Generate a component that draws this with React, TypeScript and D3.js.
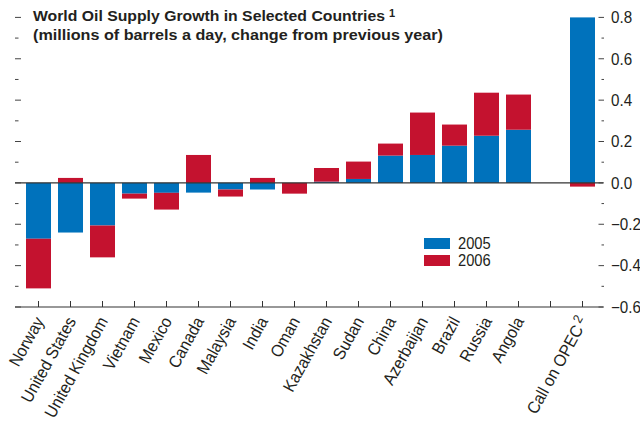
import React from "react";
import * as d3 from "d3";

const categories = [
  "Norway", "United States", "United Kingdom", "Vietnam", "Mexico", "Canada",
  "Malaysia", "India", "Oman", "Kazakhstan", "Sudan", "China", "Azerbaijan",
  "Brazil", "Russia", "Angola", "", "Call on OPEC",
];
const values2005 = [
  -0.27, -0.24, -0.206, -0.052, -0.048, -0.047, -0.032, -0.032, 0.0, 0.006,
  0.019, 0.132, 0.135, 0.18, 0.228, 0.257, 0, 0.8,
];
const values2006 = [
  -0.24, 0.024, -0.154, -0.024, -0.081, 0.135, -0.034, 0.024, -0.052, 0.066,
  0.084, 0.058, 0.205, 0.102, 0.208, 0.17, 0, -0.018,
];
const seriesKeys = ["2005", "2006"];
const seriesColors = ["#0072BC", "#C4122F"];
const yTicks = [-0.6, -0.5, -0.4, -0.3, -0.2, -0.1, 0, 0.1, 0.2, 0.3, 0.4, 0.5, 0.6, 0.7, 0.8];
const titleLines = [
  "World Oil Supply Growth in Selected Countries",
  "(millions of barrels a day, change from previous year)",
];
const superscripts: Record<string, string> = { "Call on OPEC": "2" };

const FONT = "'Liberation Sans', Arial, sans-serif";
const INK = "#231f20";

export default function App() {
  const W = 640, H = 423;
  const slots = categories.map((c, i) => `s${i}`);
  const x = d3.scaleBand<string>().domain(slots).range([22.5, 598.5]).paddingInner(7 / 32).paddingOuter(3.5 / 32);
  const y = d3.scaleLinear().domain([-0.6, 0.8]).range([307, 17.4]);

  const rows = categories.map((c, i) => ({ id: slots[i], "2005": values2005[i], "2006": values2006[i] }));
  const stack = d3.stack<any>().keys(seriesKeys).offset(d3.stackOffsetDiverging);
  const series = stack(rows);

  const axisLeft = 15, axisRight = 603;
  const fmt = d3.format(".1f");
  const isMajor = (v: number) => Math.abs(Math.round(v * 10)) % 2 === 0;

  return (
    <svg width={W} height={H} style={{ position: "absolute", left: 0, top: 0, fontFamily: FONT }}>
      <rect width={W} height={H} fill="#fff" />
      {series.map((s, si) => (
        <g key={s.key} fill={seriesColors[si]}>
          {s.map((d, i) => {
            if (!categories[i]) return null;
            const y0 = y(d[0]), y1 = y(d[1]);
            const h = Math.abs(y0 - y1);
            if (h < 0.01) return null;
            return <rect key={i} x={x(slots[i])} width={x.bandwidth()} y={Math.min(y0, y1)} height={h} />;
          })}
        </g>
      ))}
      <line x1={axisLeft} x2={axisRight} y1={y(0)} y2={y(0)} stroke="#333" strokeWidth={1.2} />
      <line x1={axisLeft} x2={axisRight} y1={y(-0.6)} y2={y(-0.6)} stroke="#333" strokeWidth={1.2} />
      {slots.map((s) => {
        const cx = (x(s) as number) + x.bandwidth() / 2;
        return <line key={s} x1={cx} x2={cx} y1={y(-0.6)} y2={y(-0.6) - 6} stroke="#333" strokeWidth={1} />;
      })}
      {yTicks.map((v) => (
        <line key={"l" + v} x1={axisLeft} x2={axisLeft + (isMajor(v) ? 6 : 3.5)} y1={y(v)} y2={y(v)} stroke="#444" strokeWidth={1} />
      ))}
      {yTicks.map((v) => (
        <line key={"r" + v} x1={isMajor(v) ? 598.5 : 601.5} x2={604} y1={y(v)} y2={y(v)} stroke="#444" strokeWidth={1} />
      ))}
      {yTicks.filter(isMajor).map((v) => (
        <text key={"t" + v} transform={`translate(611,${y(v)}) scale(0.95,1)`} dy="0.36em" fontSize={16} fill={INK}>
          {fmt(v)}
        </text>
      ))}
      {categories.map((c, i) => {
        if (!c) return null;
        const cx = (x(slots[i]) as number) + x.bandwidth() / 2;
        return (
          <text key={c} transform={`translate(${cx + 6},${321}) rotate(-61) scale(0.93,1)`} textAnchor="end" fontSize={17} fill={INK}>
            {c}
            {superscripts[c] ? <tspan fontSize={13} dx={3} dy={-6}>{superscripts[c]}</tspan> : null}
          </text>
        );
      })}
      <text x={33} y={20.5} fontSize={15} fontWeight="bold" fill={INK} textLength={352} lengthAdjust="spacingAndGlyphs">
        {titleLines[0]}
      </text>
      <text x={389} y={17} fontSize={11} fontWeight="bold" fill={INK}>1</text>
      <text x={33} y={39.5} fontSize={15} fontWeight="bold" fill={INK} textLength={410} lengthAdjust="spacingAndGlyphs">
        {titleLines[1]}
      </text>
      {seriesKeys.map((k, i) => (
        <g key={k}>
          <rect x={424} y={238 + i * 17} width={26} height={11} fill={seriesColors[i]} />
          <text transform={`translate(458,${249 + i * 17}) scale(0.92,1)`} fontSize={16} fill={INK}>{k}</text>
        </g>
      ))}
    </svg>
  );
}
